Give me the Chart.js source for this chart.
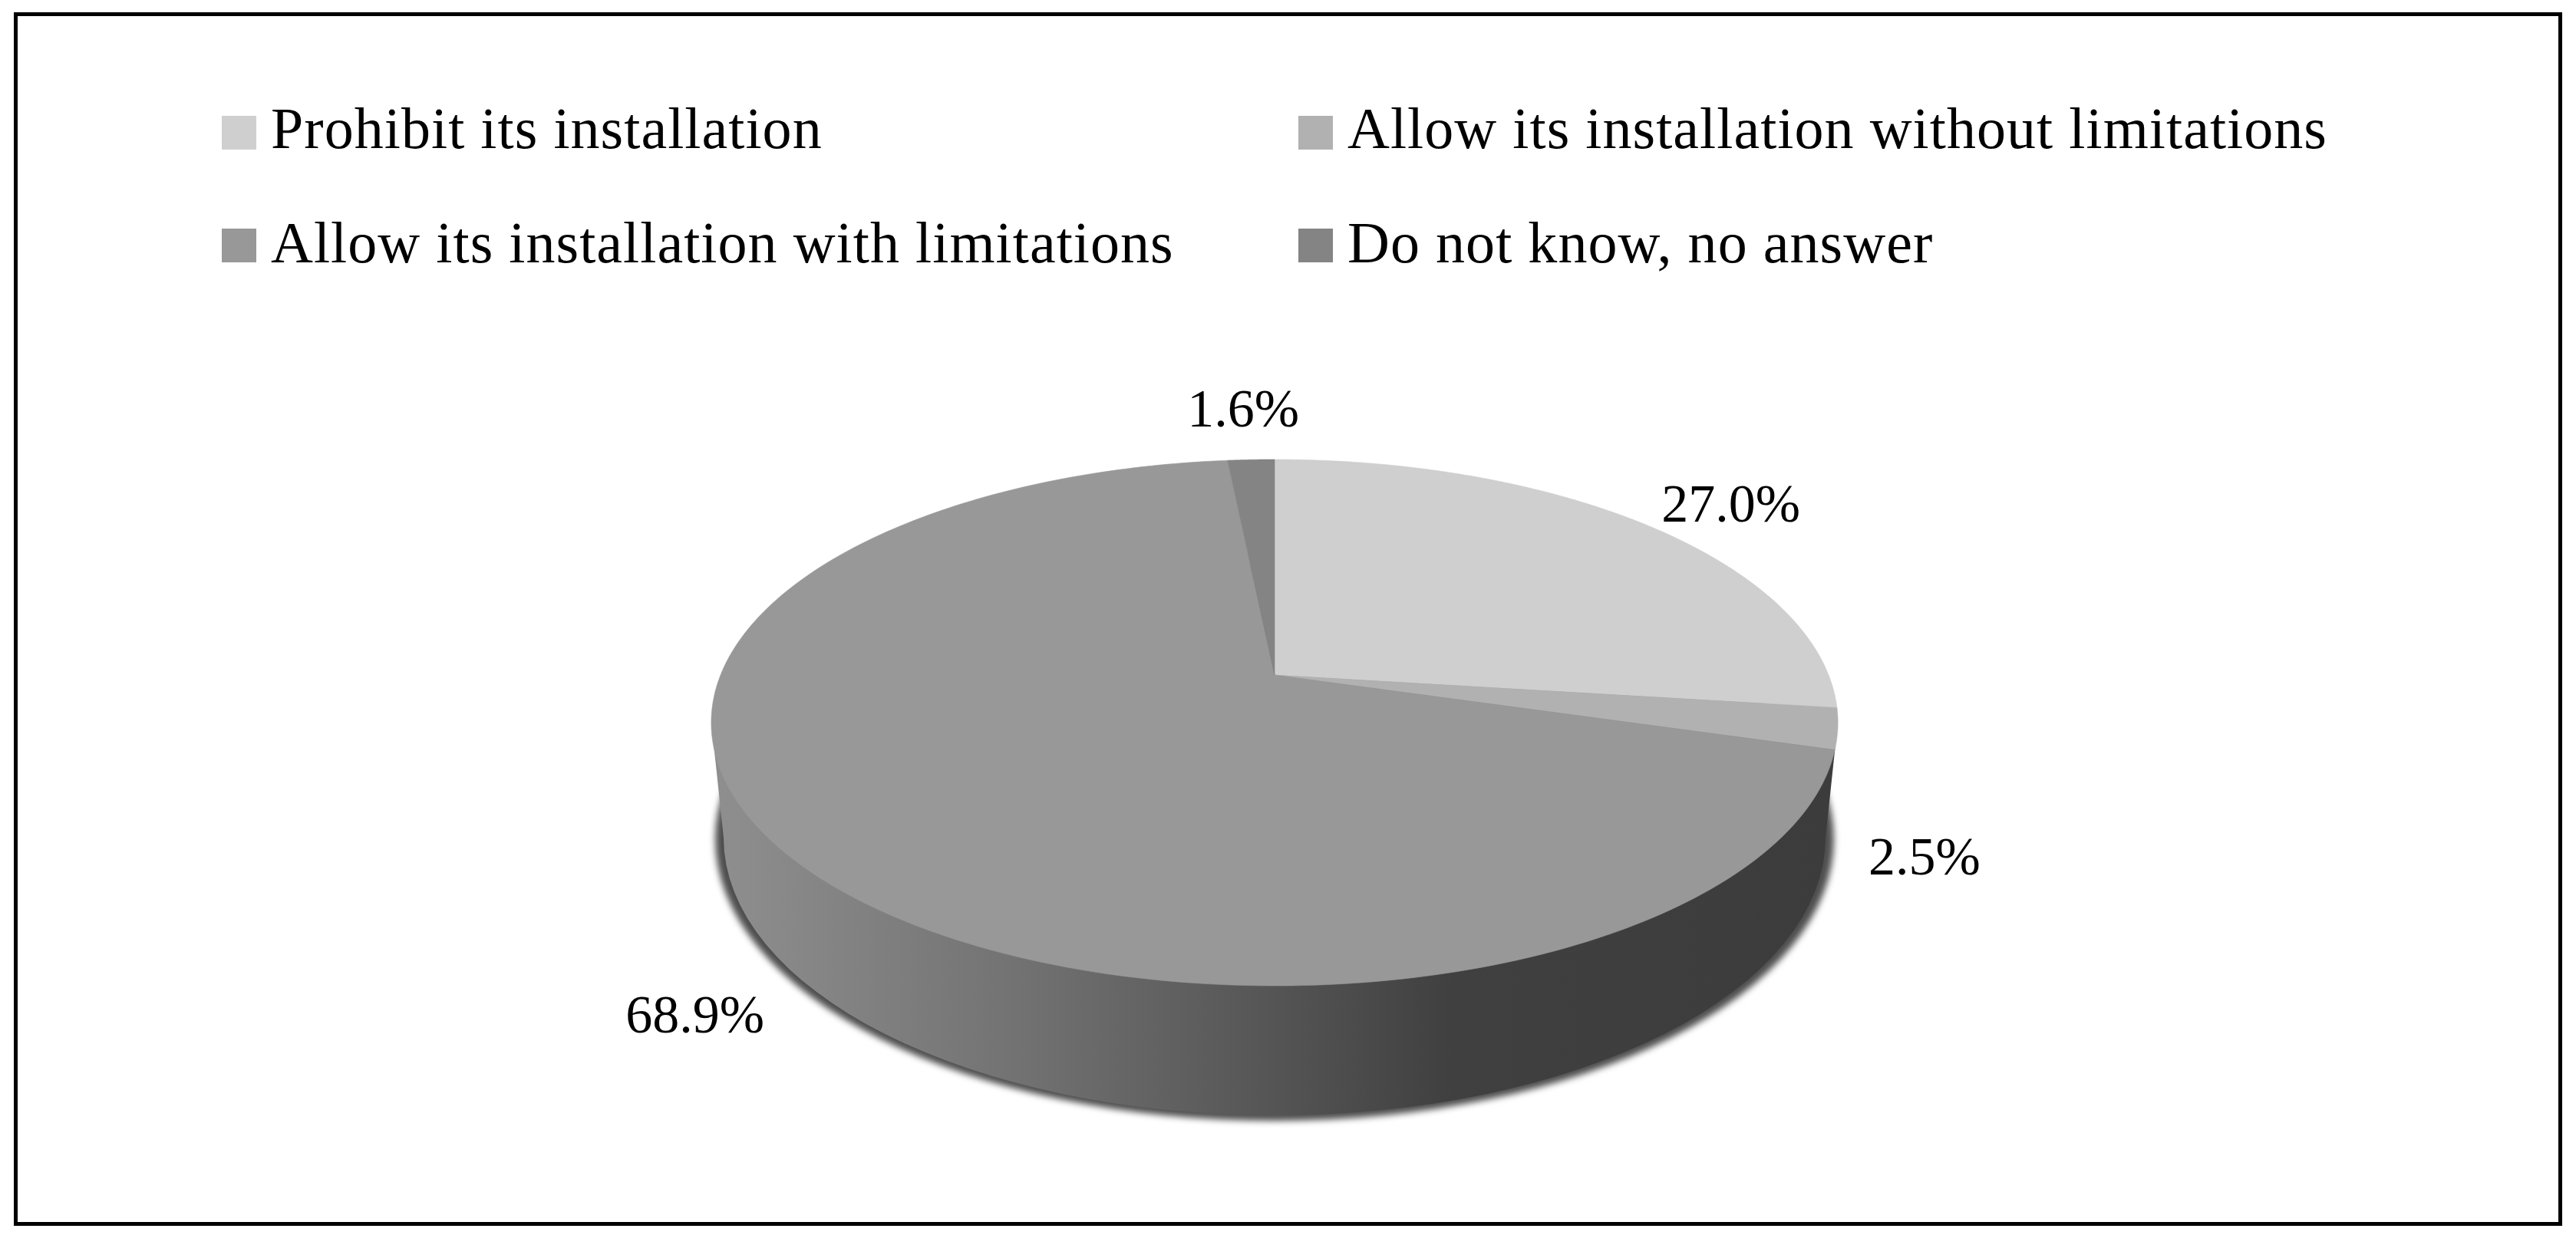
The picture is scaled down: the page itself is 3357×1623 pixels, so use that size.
<!DOCTYPE html>
<html>
<head>
<meta charset="utf-8">
<style>html,body{margin:0;padding:0;background:#fff}canvas{display:block}</style>
<script src="https://cdn.jsdelivr.net/npm/chart.js@4"></script>
</head>
<body>
<canvas id="c" width="3357" height="1623"></canvas>
<script>
const categories = ['Prohibit its installation','Allow its installation without limitations','Allow its installation with limitations','Do not know, no answer'];
const shares = [27.0, 2.5, 68.9, 1.6];
const sliceColors = ['#cfcfcf','#b1b1b1','#989898','#848484'];

// Presentation settings
const FONT = '"Liberation Serif"';
const TILT = 0.4596, PERSP = -0.1808;
const labelOffsets = [[111,-4],[113,190],[-128,226],[-10,-43]];
const legendPos = [[289,353,151,193],[1692,1756,151,193],[289,353,298,342],[1692,1756,298,342]];

function proj(el, a){
  const u=Math.cos(a), v=Math.sin(a), d=1+PERSP*v, R=el.outerRadius;
  return [el.x+R*u/d, el.y+R*TILT*v/d];
}

const pie3d = {
  id:'pie3d',
  beforeDraw(chart){
    const ctx=chart.ctx;
    ctx.save();
    ctx.fillStyle='#fff';ctx.fillRect(0,0,chart.width,chart.height);
    ctx.strokeStyle='#000';ctx.lineWidth=5;
    ctx.strokeRect(20.5,18.5,3316,1577);
    ctx.restore();
  },
  beforeDatasetDraw(chart,args){
    const ctx=chart.ctx, arcs=args.meta.data, el0=arcs[0], cx=el0.x;
    // wall and its soft shadow
    const by=1092;
    ctx.save();
    ctx.filter='blur(4px)';
    ctx.fillStyle='#4e4e4e';
    ctx.beginPath();ctx.ellipse(cx,by+2,729,367,0,0,Math.PI*2);ctx.fill();
    ctx.restore();
    ctx.save();
    const g=ctx.createLinearGradient(cx-718,0,cx+718,0);
    [[0,'#8e8e8e'],[0.25,'#747474'],[0.49,'#565656'],[0.66,'#404040'],[1,'#3c3c3c']].forEach(s=>g.addColorStop(s[0],s[1]));
    ctx.fillStyle=g;
    ctx.beginPath();
    ctx.moveTo(cx-734,942);
    ctx.lineTo(cx-718,by);
    ctx.ellipse(cx,by,718,362,0,Math.PI,0,true);
    ctx.lineTo(cx+734,942);
    ctx.closePath();ctx.fill();
    ctx.restore();
    // top face
    arcs.forEach((el,i)=>{
      ctx.beginPath();
      ctx.moveTo(el.x,el.y);
      const n=240;
      for(let k=0;k<=n;k++){
        const p=proj(el,el.startAngle+(el.endAngle-el.startAngle)*k/n);
        ctx.lineTo(p[0],p[1]);
      }
      ctx.closePath();
      ctx.fillStyle=sliceColors[i];ctx.fill();
      ctx.strokeStyle=sliceColors[i];ctx.lineWidth=0.6;ctx.stroke();
    });
    return false;
  },
  afterDatasetsDraw(chart){
    const ctx=chart.ctx, arcs=chart.getDatasetMeta(0).data;
    ctx.save();
    ctx.fillStyle='#000';
    ctx.font='70px '+FONT;
    ctx.textBaseline='alphabetic';
    ctx.textAlign='center';
    arcs.forEach((el,i)=>{
      const p=proj(el,(el.startAngle+el.endAngle)/2);
      ctx.fillText(shares[i].toFixed(1)+'%',p[0]+labelOffsets[i][0],p[1]+labelOffsets[i][1]);
    });
    ctx.textAlign='left';
    ctx.font='76px '+FONT;
    ctx.letterSpacing='1.05px';
    chart.data.labels.forEach((t,i)=>{
      const q=legendPos[i];
      ctx.fillStyle=sliceColors[i];
      ctx.fillRect(q[0],q[2],45,44);
      ctx.fillStyle='#000';
      ctx.fillText(t,q[1],q[3]);
    });
    ctx.restore();
  }
};

new Chart(document.getElementById('c'),{
  type:'pie',
  data:{labels:categories,datasets:[{data:shares,backgroundColor:sliceColors,borderWidth:0}]},
  options:{
    responsive:false,animation:false,
    layout:{padding:{left:939,right:974,top:158,bottom:21}},
    plugins:{legend:{display:false},tooltip:{enabled:false}}
  },
  plugins:[pie3d]
});
</script>
</body>
</html>
